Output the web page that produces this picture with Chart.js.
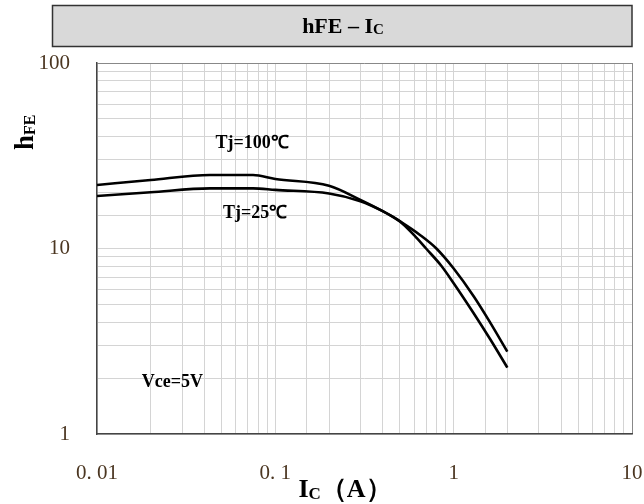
<!DOCTYPE html>
<html><head><meta charset="utf-8">
<script src="https://cdn.jsdelivr.net/npm/chart.js@4.4.1/dist/chart.umd.min.js"></script>
<style>html,body{margin:0;padding:0;background:#fff;}canvas{display:block;}</style>
</head><body>
<canvas id="c" width="644" height="504"></canvas>
<script>
// ---- data ----
const icTj100  = [0.01, 0.02, 0.043, 0.075, 0.1, 0.2, 0.3, 0.4, 0.5, 0.6, 0.7, 0.85, 1.0, 1.3, 1.6, 2.0];
const hfeTj100 = [22.0, 23.4, 24.9, 24.9, 23.7, 21.8, 18.3, 15.9, 14.0, 11.8, 10.0, 8.1, 6.5, 4.45, 3.25, 2.28];
const icTj25   = [0.01, 0.02, 0.043, 0.075, 0.1, 0.2, 0.3, 0.4, 0.5, 0.65, 0.8, 1.0, 1.3, 1.6, 2.0];
const hfeTj25  = [19.2, 20.1, 21.1, 21.1, 20.7, 19.8, 18.0, 15.9, 14.0, 11.8, 10.0, 7.8, 5.5, 4.0, 2.78];
const xMajorTicks = [0.01, 0.1, 1, 10];
const xTickLabels = ['0. 01', '0. 1', '1', '10'];
const yMajorTicks = [1, 10, 100];
const yTickLabels = ['1', '10', '100'];
const curveLabels = ['Tj=100℃', 'Tj=25℃', 'Vce=5V'];
const curveLabelX = [0.074, 0.077, 0.0265];
const curveLabelY = [37, 15.5, 1.9];

function pts(xs, ys){ return xs.map((x,i)=>({x:x, y:ys[i]})); }
function findLabel(v, majors, labels){
  for (let i=0;i<majors.length;i++){ if (Math.abs(Math.log10(v)-Math.log10(majors[i]))<1e-6) return labels[i]; }
  return '';
}
const SERIF = "'Liberation Serif','Times New Roman',serif";
const tickColor = '#4b3621';

const decor = {
  id:'decor',
  beforeDraw(chart){
    const ctx = chart.ctx;
    ctx.save();
    ctx.fillStyle = '#d9d9d9';
    ctx.fillRect(52.5, 5.5, 579.5, 41);
    ctx.strokeStyle = '#333';
    ctx.lineWidth = 1.5;
    ctx.strokeRect(52.5, 5.5, 579.5, 41);
    ctx.fillStyle = '#000';
    ctx.textBaseline = 'alphabetic';
    const big = 'bold 22px ' + SERIF, small = 'bold 15px ' + SERIF;
    const main = 'hFE – I', sub = 'C';
    ctx.font = big; const w1 = ctx.measureText(main).width;
    ctx.font = small; const w2 = ctx.measureText(sub).width;
    let x0 = 343 - (w1+w2)/2;
    ctx.font = big; ctx.fillText(main, x0, 33);
    ctx.font = small; ctx.fillText(sub, x0 + w1, 34);
    ctx.restore();
  },
  afterDraw(chart){
    const ctx = chart.ctx, xs = chart.scales.x, ys = chart.scales.y;
    ctx.save();
    ctx.fillStyle = '#000';
    ctx.textAlign = 'center'; ctx.textBaseline = 'middle';
    ctx.font = 'bold 18px ' + SERIF;
    for (let i=0;i<curveLabels.length;i++){
      ctx.fillText(curveLabels[i], xs.getPixelForValue(curveLabelX[i]), ys.getPixelForValue(curveLabelY[i]));
    }
    ctx.textAlign = 'left'; ctx.textBaseline = 'alphabetic';
    ctx.translate(33, 150);
    ctx.rotate(-Math.PI/2);
    ctx.font = 'bold 27px ' + SERIF; ctx.fillText('h', 0, 0);
    const wh = ctx.measureText('h').width;
    ctx.font = 'bold 16px ' + SERIF; ctx.fillText('FE', wh, 2);
    ctx.setTransform(1,0,0,1,0,0);
    const bigX = 'bold 26px ' + SERIF, smallX = 'bold 17px ' + SERIF;
    ctx.font = bigX; const wI = ctx.measureText('I').width;
    ctx.font = smallX; const wC = ctx.measureText('C').width;
    ctx.font = bigX; const wA = ctx.measureText('（A）').width;
    let xx = 345 - (wI+wC+wA)/2;
    ctx.font = bigX; ctx.fillText('I', xx, 497);
    ctx.font = smallX; ctx.fillText('C', xx+wI, 499);
    ctx.font = bigX; ctx.fillText('（A）', xx+wI+wC, 497);
    ctx.restore();
  }
};

new Chart(document.getElementById('c'), {
  type:'scatter',
  data:{ datasets:[
    { label:'Tj=100℃', data:pts(icTj100, hfeTj100), showLine:true, borderColor:'#000', borderWidth:2.6, pointRadius:0, cubicInterpolationMode:'monotone', fill:false },
    { label:'Tj=25℃', data:pts(icTj25, hfeTj25), showLine:true, borderColor:'#000', borderWidth:2.6, pointRadius:0, cubicInterpolationMode:'monotone', fill:false }
  ]},
  options:{
    responsive:false, animation:false, devicePixelRatio:1,
    layout:{ padding:{ top:63, right:12, left:0, bottom:0 } },
    plugins:{ legend:{display:false}, tooltip:{enabled:false}, title:{display:false} },
    scales:{
      x:{ type:'logarithmic', min:0.01, max:10,
        afterFit(s){ s.height = 70; s.paddingLeft = 0; s.paddingRight = 0; },
        border:{ color:'#444', width:1.5 },
        grid:{ drawTicks:false, lineWidth:1, color:(c)=> (c.tick && Math.abs(c.tick.value-10)<1e-9) ? '#888' : '#d4d4d4' },
        ticks:{ autoSkip:false, maxRotation:0, padding:27, color:tickColor, font:{ family:SERIF, size:21 },
          callback:(v)=> findLabel(v, xMajorTicks, xTickLabels) }
      },
      y:{ type:'logarithmic', min:1, max:100,
        afterFit(s){ s.width = 97; s.paddingTop = 0; s.paddingBottom = 0; },
        border:{ color:'#444', width:1.5 },
        grid:{ drawTicks:false, lineWidth:1, color:(c)=> (c.tick && Math.abs(c.tick.value-100)<1e-9) ? '#888' : '#d4d4d4' },
        ticks:{ autoSkip:false, padding:27, color:tickColor, font:{ family:SERIF, size:21 },
          callback:(v)=> findLabel(v, yMajorTicks, yTickLabels) }
      }
    }
  },
  plugins:[decor]
});
</script>
</body></html>
